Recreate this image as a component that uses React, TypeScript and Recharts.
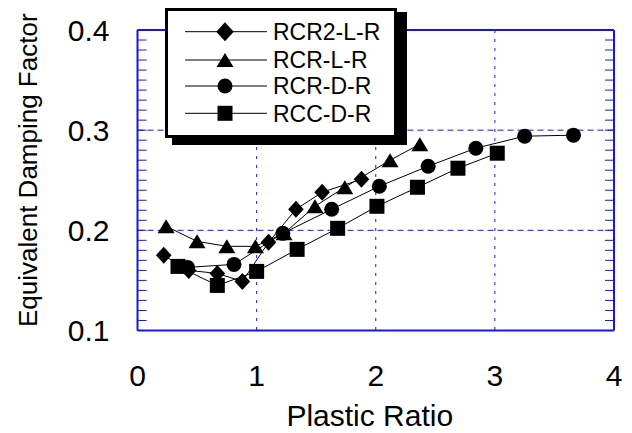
import React from 'react';
import { ScatterChart, Scatter, XAxis, YAxis, CartesianGrid, Legend, Label } from 'recharts';

const seriesNames = ['RCR2-L-R', 'RCR-L-R', 'RCR-D-R', 'RCC-D-R'];

const rcr2LRx = [0.22, 0.43, 0.67, 0.88, 1.1, 1.33, 1.55, 1.88];
const rcr2LRy = [0.175, 0.16, 0.157, 0.149, 0.188, 0.221, 0.238, 0.251];

const rcrLRx = [0.24, 0.5, 0.75, 0.99, 1.23, 1.49, 1.74, 2.12, 2.37];
const rcrLRy = [0.204, 0.189, 0.184, 0.184, 0.197, 0.224, 0.243, 0.27, 0.286];

const rcrDRx = [0.42, 0.81, 1.22, 1.63, 2.03, 2.44, 2.84, 3.25, 3.66];
const rcrDRy = [0.163, 0.166, 0.197, 0.221, 0.244, 0.264, 0.282, 0.294, 0.295];

const rccDRx = [0.34, 0.67, 1.0, 1.34, 1.68, 2.01, 2.35, 2.69, 3.02];
const rccDRy = [0.164, 0.145, 0.159, 0.181, 0.202, 0.224, 0.243, 0.262, 0.277];

const xMajorTicks = [0, 1, 2, 3, 4];
const yMajorTicks = [0.1, 0.2, 0.3, 0.4];
const xMinorTicks = [0, 0.2, 0.4, 0.6, 0.8, 1, 1.2, 1.4, 1.6, 1.8, 2, 2.2, 2.4, 2.6, 2.8, 3, 3.2, 3.4, 3.6, 3.8, 4];
const yMinorTicks = [
  0.1, 0.11, 0.12, 0.13, 0.14, 0.15, 0.16, 0.17, 0.18, 0.19,
  0.2, 0.21, 0.22, 0.23, 0.24, 0.25, 0.26, 0.27, 0.28, 0.29,
  0.3, 0.31, 0.32, 0.33, 0.34, 0.35, 0.36, 0.37, 0.38, 0.39, 0.4,
];

const zip = (xs: number[], ys: number[]) => xs.map((x, i) => ({ x, y: ys[i] }));

const BLUE = '#1818d8';
const FONT = '"Liberation Sans", Arial, sans-serif';
const THIN = 0.01;

type Kind = 'diamond' | 'triangle' | 'circle' | 'square';

const markerPath = (kind: Kind, cx: number, cy: number, k = 1) => {
  switch (kind) {
    case 'diamond':
      return <path d={`M${cx},${cy - 8.5 * k}L${cx + 7.8 * k},${cy}L${cx},${cy + 8.5 * k}L${cx - 7.8 * k},${cy}Z`} fill="#000" />;
    case 'triangle':
      return <path d={`M${cx},${cy - 7 * k}L${cx + 8.5 * k},${cy + 7 * k}L${cx - 8.5 * k},${cy + 7 * k}Z`} fill="#000" />;
    case 'circle':
      return <circle cx={cx} cy={cy} r={7.5 * k} fill="#000" />;
    default:
      return <rect x={cx - 7.5 * k} y={cy - 7.5 * k} width={15 * k} height={15 * k} fill="#000" />;
  }
};

const makeShape = (kind: Kind) => (props: any) => {
  const { cx, cy } = props;
  if (cx == null || cy == null) return <g />;
  return markerPath(kind, cx, cy);
};

const noTick = () => <g />;

const series: { name: string; data: { x: number; y: number }[]; kind: Kind }[] = [
  { name: seriesNames[0], data: zip(rcr2LRx, rcr2LRy), kind: 'diamond' },
  { name: seriesNames[1], data: zip(rcrLRx, rcrLRy), kind: 'triangle' },
  { name: seriesNames[2], data: zip(rcrDRx, rcrDRy), kind: 'circle' },
  { name: seriesNames[3], data: zip(rccDRx, rccDRy), kind: 'square' },
];

// legend svg origin sits at page (160, 0)
const legendRowsY = [31.7, 60, 86, 113.3];

const renderLegend = () => (
  <svg width={260} height={150} style={{ display: 'block', overflow: 'visible' }}>
    <rect x={12} y={12} width={235} height={133} fill="#000" />
    <rect x={6.5} y={9.5} width={229} height={127} fill="#fff" stroke="#000" strokeWidth={3} />
    {series.map((s, i) => (
      <g key={s.name}>
        <line x1={25} x2={107} y1={legendRowsY[i]} y2={legendRowsY[i]} stroke="#000" strokeWidth={1} />
        {markerPath(s.kind, 65, legendRowsY[i], s.kind === 'diamond' ? 1.12 : 1)}
        <text x={113} y={legendRowsY[i]} dy="0.36em" fontSize={23} fontFamily={FONT} fill="#000">
          {s.name}
        </text>
      </g>
    ))}
  </svg>
);

export default function App() {
  return (
    <div style={{ fontFamily: FONT, margin: '-8px 0 0 -8px', width: 632, height: 433 }}>
      <ScatterChart
        width={632}
        height={433}
        margin={{ top: 30, right: 18, bottom: 102.5, left: 137.5 }}
        style={{ fontFamily: FONT }}
      >
        <CartesianGrid horizontal={false} vertical stroke={BLUE} strokeDasharray="3 6" fill="none" />
        <CartesianGrid horizontal vertical={false} stroke={BLUE} strokeDasharray="6 4" fill="none" />

        <XAxis
          dataKey="x"
          type="number"
          domain={[0, 4]}
          ticks={xMajorTicks}
          interval={0}
          height={THIN}
          tickLine={false}
          tickSize={0}
          tickMargin={34.5}
          axisLine={{ stroke: BLUE, strokeWidth: 2 }}
          tick={{ fontSize: 30, fill: '#000', fontFamily: FONT }}
          allowDataOverflow
        >
          <Label
            content={(p: any) => {
              const vb = p.viewBox || {};
              return (
                <text x={vb.x + vb.width / 2 - 6} y={vb.y + 96} textAnchor="middle" fontSize={30} fontFamily={FONT} fill="#000">
                  Plastic Ratio
                </text>
              );
            }}
          />
        </XAxis>
        <XAxis
          xAxisId="xb"
          type="number"
          domain={[0, 4]}
          ticks={xMinorTicks}
          interval={0}
          height={THIN}
          mirror
          tick={noTick}
          tickSize={7}
          tickLine={{ stroke: BLUE, strokeWidth: 1 }}
          axisLine={false}
          allowDataOverflow
        />
        <XAxis
          xAxisId="xt"
          orientation="top"
          type="number"
          domain={[0, 4]}
          ticks={xMinorTicks}
          interval={0}
          height={THIN}
          mirror
          tick={noTick}
          tickSize={7}
          tickLine={{ stroke: BLUE, strokeWidth: 1 }}
          axisLine={{ stroke: BLUE, strokeWidth: 2 }}
          allowDataOverflow
        />

        <YAxis
          dataKey="y"
          type="number"
          domain={[0.1, 0.4]}
          ticks={yMajorTicks}
          interval={0}
          width={THIN}
          tickLine={false}
          tickSize={0}
          tickMargin={28}
          tickFormatter={(v: number) => v.toFixed(1)}
          axisLine={{ stroke: BLUE, strokeWidth: 2 }}
          tick={{ fontSize: 30, fill: '#000', fontFamily: FONT }}
          allowDataOverflow
        >
          <Label
            content={(p: any) => {
              const vb = p.viewBox || {};
              const x = vb.x - 100.5;
              const y = vb.y + vb.height / 2 - 10;
              return (
                <text x={x} y={y} transform={`rotate(-90, ${x}, ${y})`} textAnchor="middle" fontSize={26} fontFamily={FONT} fill="#000">
                  Equivalent Damping Factor
                </text>
              );
            }}
          />
        </YAxis>
        <YAxis
          yAxisId="yl"
          type="number"
          domain={[0.1, 0.4]}
          ticks={yMinorTicks}
          interval={0}
          width={THIN}
          mirror
          tick={noTick}
          tickSize={9}
          tickLine={{ stroke: BLUE, strokeWidth: 1 }}
          axisLine={false}
          allowDataOverflow
        />
        <YAxis
          yAxisId="yr"
          orientation="right"
          type="number"
          domain={[0.1, 0.4]}
          ticks={yMinorTicks}
          interval={0}
          width={THIN}
          mirror
          tick={noTick}
          tickSize={9}
          tickLine={{ stroke: BLUE, strokeWidth: 1 }}
          axisLine={{ stroke: BLUE, strokeWidth: 2 }}
          allowDataOverflow
        />

        {series.map((s) => (
          <Scatter
            key={s.name}
            name={s.name}
            data={s.data}
            fill="#000"
            line={{ stroke: '#000', strokeWidth: 1 }}
            lineType="joint"
            shape={makeShape(s.kind)}
            isAnimationActive={false}
          />
        ))}

        <Legend
          layout="vertical"
          align="center"
          verticalAlign="middle"
          content={renderLegend}
          wrapperStyle={{ left: 160, top: 0, width: 260, height: 150 }}
        />
      </ScatterChart>
    </div>
  );
}
